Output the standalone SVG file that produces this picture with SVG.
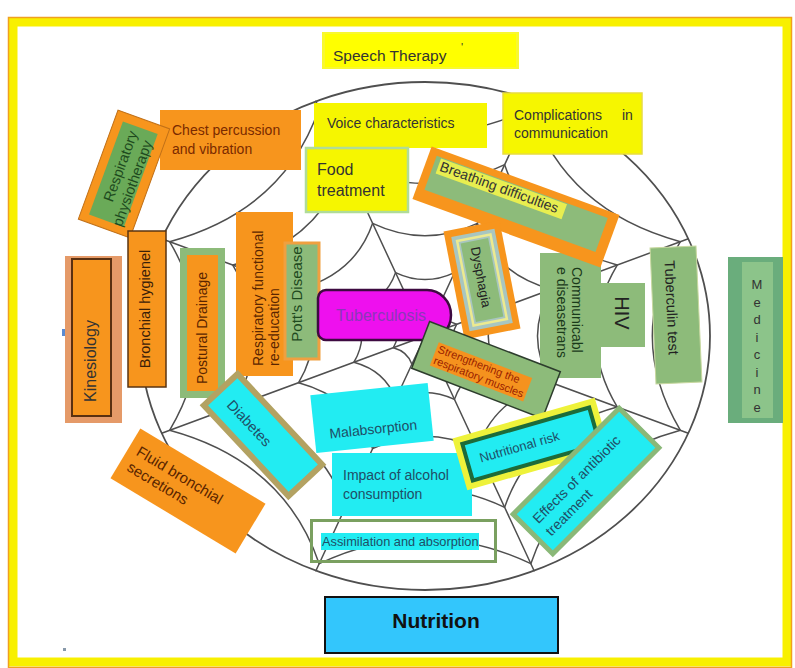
<svg xmlns="http://www.w3.org/2000/svg" width="795" height="668" viewBox="0 0 795 668">
<style>
text{font-family:"Liberation Sans",Arial,sans-serif;}
.web{fill:none;stroke:#4f4f4f;stroke-linejoin:round;stroke-linecap:round}
.or{fill:#f7951d}
.gr{fill:#8dbb7a}
.ye{fill:#f6f600}
.cy{fill:#22ecf2}
.dk{fill:#333}
.br{fill:#5a2500}
.bl{fill:#1f4e66}
</style>
<defs>
<path id="ring" d="M109.1,-234.7 Q145.2,-129.4 263.3,-97.2 Q205.4,0 263.3,97.2 Q145.2,129.4 109.1,234.7 Q0,183.1 -109.1,234.7 Q-145.2,129.4 -263.3,97.2 Q-205.4,0 -263.3,-97.2 Q-145.2,-129.4 -109.1,-234.7 Q0,-183.1 109.1,-234.7 Z"/>
</defs>
<rect x="0" y="0" width="795" height="668" fill="#fff"/>
<g id="frame">
<rect x="13" y="22" width="774" height="640" fill="#fff" stroke="#f8f000" stroke-width="9"/>
<rect x="8.5" y="17.5" width="783" height="650" fill="none" stroke="#f0a020" stroke-width="1.5"/>
<rect x="62" y="329" width="4" height="7" fill="#5a8ad0"/>
<rect x="63" y="648" width="3" height="3" fill="#8899aa"/>
</g>
<g id="connectors" class="web">
<ellipse cx="425" cy="336" rx="285" ry="254" stroke-width="1.8"/>
<path stroke-width="1.5" d="M425 336 L534.1 101.3 M425 336 L688.3 238.8 M425 336 L688.3 433.2 M425 336 L534.1 570.7 M425 336 L315.9 570.7 M425 336 L161.7 433.2 M425 336 L161.7 238.8 M425 336 L315.9 101.3"/>
<use href="#ring" transform="translate(425 336) scale(0.97)" stroke-width="1.55"/>
<use href="#ring" transform="translate(425 336) scale(0.73)" stroke-width="2.05"/>
<use href="#ring" transform="translate(425 336) scale(0.48)" stroke-width="3.12"/>
<use href="#ring" transform="translate(425 336) scale(0.27)" stroke-width="5.55"/>
<use href="#ring" transform="translate(425 336) scale(0.12)" stroke-width="12.5"/>
</g>
<g id="speech-therapy">
<rect x="322" y="32" width="197" height="37" fill="#f8f830"/>
<rect x="325" y="34" width="191" height="33" fill="#ffff00"/>
<text x="333" y="61" font-size="15.5" class="dk">Speech Therapy</text>
<text x="461" y="51" font-size="11" class="dk">'</text>
</g>
<g id="voice-characteristics">
<rect x="314" y="103" width="173" height="45" class="ye"/>
<text x="327" y="128" font-size="14" class="dk">Voice characteristics</text>
</g>
<g id="complications-in-communication">
<rect x="503" y="93" width="139" height="61" class="ye" stroke="#e8dc40" stroke-width="1.5"/>
<text x="514" y="120" font-size="14" class="dk">Complications<tspan x="622">in</tspan></text>
<text x="514" y="138" font-size="14" class="dk">communication</text>
</g>
<g id="food-treatment">
<rect x="306" y="148" width="102" height="64" class="ye" stroke="#b0dc98" stroke-width="2.5"/>
<text x="317" y="175" font-size="16" class="dk">Food</text>
<text x="317" y="196" font-size="16" class="dk">treatment</text>
</g>
<g id="chest-percussion-vibration">
<rect x="160" y="110" width="141" height="60" class="or"/>
<text x="172" y="135" font-size="14" fill="#7a2a00">Chest percussion</text>
<text x="172" y="154" font-size="14" fill="#7a2a00">and vibration</text>
</g>
<g id="respiratory-physiotherapy" transform="translate(124 174) rotate(20)">
<rect x="-27.5" y="-58" width="55" height="116" class="or" stroke="#c07018" stroke-width="1"/>
<rect x="-19" y="-49" width="37" height="99" fill="#6aaa58"/>
<text transform="translate(-1 -6) rotate(-90)" text-anchor="middle" font-size="14.5" fill="#1e4a1e">Respiratory</text>
<text transform="translate(16 6) rotate(-90)" text-anchor="middle" font-size="14.5" fill="#1e4a1e">physiotherapy</text>
</g>
<g id="bronchial-hygienel">
<rect x="128" y="231" width="38" height="156" class="or" stroke="#5a3412" stroke-width="1.5"/>
<text transform="translate(150 309) rotate(-90)" text-anchor="middle" font-size="14.5" fill="#3a2008">Bronchial hygienel</text>
</g>
<g id="kinesiology">
<rect x="65" y="256" width="57" height="167" fill="#e59a68"/>
<rect x="72" y="259" width="39" height="157" class="or" stroke="#5a3010" stroke-width="2"/>
<text transform="translate(96 361) rotate(-90)" text-anchor="middle" font-size="16" class="dk">Kinesiology</text>
</g>
<g id="postural-drainage">
<rect x="180" y="248" width="45" height="150" class="gr"/>
<rect x="187" y="255" width="31" height="136" class="or"/>
<text transform="translate(207 328) rotate(-90)" text-anchor="middle" font-size="14" class="br">Postural Drainage</text>
</g>
<g id="respiratory-functional-reeducation">
<rect x="236" y="212" width="57" height="164" class="or"/>
<text transform="translate(263 366) rotate(-90)" font-size="14" class="br">Respiratory functional</text>
<text transform="translate(279 366) rotate(-90)" font-size="14" class="br">re-education</text>
</g>
<g id="potts-disease">
<rect x="285" y="243" width="34" height="116" class="gr" stroke="#f0a040" stroke-width="3"/>
<text transform="translate(302 294) rotate(-90)" text-anchor="middle" font-size="15" fill="#1e4a1e">Pott's Disease</text>
</g>
<g id="communicable-diseases">
<rect x="540" y="253" width="61" height="125" class="gr"/>
<text transform="translate(572 267) rotate(90)" font-size="14" fill="#1a3a1a">Communicabl</text>
<text transform="translate(557 267) rotate(90)" font-size="14" fill="#1a3a1a">e diseasetrans</text>
</g>
<g id="hiv">
<rect x="598" y="283" width="47" height="64" class="gr"/>
<text transform="translate(615 313) rotate(90)" text-anchor="middle" font-size="20" fill="#222">HIV</text>
</g>
<g id="tuberculin-test" transform="translate(676 315) rotate(-2.5)">
<rect x="-23" y="-68" width="46" height="136" class="gr" stroke="#c8d8a0" stroke-width="1"/>
<text transform="translate(-9 -55) rotate(90)" font-size="14.5" fill="#222">Tuberculin test</text>
</g>
<g id="medicine">
<rect x="728" y="257" width="55" height="166" fill="#6aad7c"/>
<rect x="742" y="262" width="31" height="156" fill="#8cc48a"/>
<text font-size="13" text-anchor="middle" class="dk"><tspan x="757" y="289">M</tspan><tspan x="757" y="306.5">e</tspan><tspan x="757" y="324">d</tspan><tspan x="757" y="341.5">i</tspan><tspan x="757" y="359">c</tspan><tspan x="757" y="376.5">i</tspan><tspan x="757" y="394">n</tspan><tspan x="757" y="411.5">e</tspan></text>
</g>
<g id="breathing-difficulties" transform="translate(516 207) rotate(20)">
<rect x="-100" y="-28" width="200" height="56" class="or"/>
<rect x="-92" y="-21" width="182" height="36" class="gr"/>
<rect x="-87" y="-20" width="134" height="16" fill="#e8ee50"/>
<text x="-85" y="-8" font-size="14" class="dk">Breathing difficulties</text>
</g>
<g id="dysphagia" transform="translate(482 280) rotate(-11)">
<rect x="-28.5" y="-55" width="57" height="110" class="or"/>
<rect x="-22" y="-48" width="44" height="96" fill="#a8c6c0"/>
<rect x="-17" y="-43" width="34" height="86" fill="none" stroke="#ecea90" stroke-width="2.5"/>
<rect x="-14" y="-40" width="28" height="80" class="gr"/>
<text transform="translate(-5 -3) rotate(90)" text-anchor="middle" font-size="13" fill="#222">Dysphagia</text>
</g>
<g id="tuberculosis">
<path d="M326,290 H427 A24,25 0 0 1 427,340 H326 A8,8 0 0 1 318,332 V298 A8,8 0 0 1 326,290 Z" fill="#ee10ee" stroke="#3d0a40" stroke-width="2.5"/>
<text x="381" y="321" text-anchor="middle" font-size="16" fill="#8a38b8">Tuberculosis</text>
</g>
<g id="strengthening-respiratory-muscles" transform="translate(486 370) rotate(21)">
<rect x="-70" y="-25" width="140" height="50" class="gr" stroke="#2d3d2d" stroke-width="1.5"/>
<rect x="-54" y="-9" width="100" height="25" fill="#f5921e"/>
<text x="-52" y="1" font-size="11" fill="#9a1e00">Strengthening the</text>
<text x="-52" y="13" font-size="11" fill="#9a1e00">respiratory muscles</text>
</g>
<g id="malabsorption" transform="translate(372 418) rotate(-6)">
<rect x="-59" y="-29" width="118" height="58" class="cy"/>
<text x="0" y="16" text-anchor="middle" font-size="14" class="bl">Malabsorption</text>
</g>
<g id="impact-of-alcohol-consumption">
<rect x="332" y="453" width="140" height="63" class="cy"/>
<text x="343" y="480" font-size="14" class="bl">Impact of alcohol</text>
<text x="343" y="499" font-size="14" class="bl">consumption</text>
</g>
<g id="assimilation-and-absorption">
<rect x="311.5" y="520.5" width="184" height="41" fill="none" stroke="#7aa060" stroke-width="3"/>
<rect x="321" y="533" width="158" height="17" class="cy"/>
<text x="322" y="546" font-size="12.8" class="bl">Assimilation and absorption</text>
</g>
<g id="diabetes" transform="translate(263 435) rotate(47)">
<rect x="-62" y="-23" width="124" height="46" class="cy" stroke="#b3a262" stroke-width="6"/>
<text x="-18" y="7" text-anchor="middle" font-size="14.5" class="bl">Diabetes</text>
</g>
<g id="fluid-bronchial-secretions" transform="translate(188 491) rotate(31)">
<rect x="-73" y="-29" width="146" height="58" class="or"/>
<text x="-64" y="-4" font-size="15" class="br">Fluid bronchial</text>
<text x="-64" y="14" font-size="15" class="br">secretions</text>
</g>
<g id="nutritional-risk" transform="translate(531 444) rotate(-16)">
<rect x="-74" y="-27" width="148" height="54" fill="#eef23a"/>
<rect x="-66" y="-19" width="132" height="38" class="cy" stroke="#1d6b3a" stroke-width="4"/>
<text x="-12" y="4" text-anchor="middle" font-size="13" class="bl">Nutritional risk</text>
</g>
<g id="effects-of-antibiotic-treatment" transform="translate(586 481) rotate(-45)">
<rect x="-75" y="-28" width="150" height="56" class="cy" stroke="#8ab878" stroke-width="5"/>
<text x="-64" y="-3" font-size="14" class="bl">Effects of antibiotic</text>
<text x="-64" y="15" font-size="14" class="bl">treatment</text>
</g>
<g id="nutrition">
<rect x="325" y="597" width="233" height="56" fill="#33c6fc" stroke="#111" stroke-width="2"/>
<text x="436" y="628" text-anchor="middle" font-size="21" font-weight="bold" fill="#111">Nutrition</text>
</g>
</svg>
